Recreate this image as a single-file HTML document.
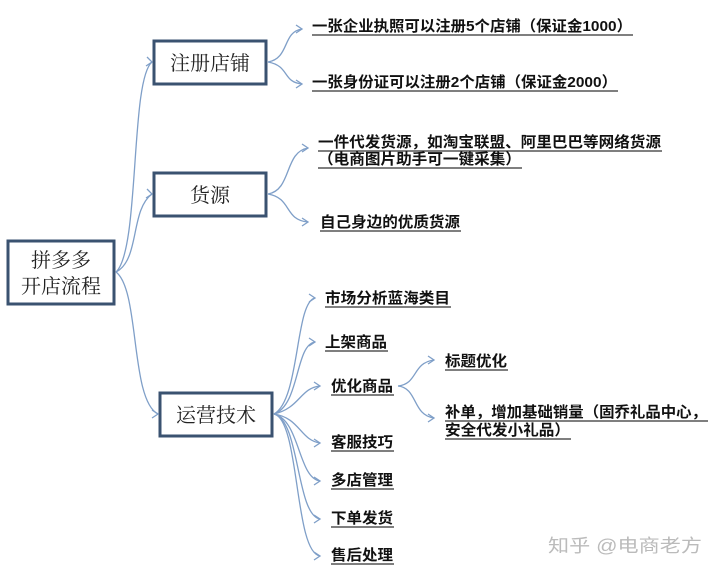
<!DOCTYPE html>
<html><head><meta charset="utf-8"><style>
body{margin:0;background:#fff}
svg{display:block}
.t{font-family:"Liberation Sans","Noto Sans CJK SC",sans-serif;font-size:15px;font-weight:bold;fill:#111}
.b{font-family:"Liberation Serif","Noto Serif CJK SC",serif;font-size:20px;fill:#222}
.u{stroke:#333;stroke-width:1.3}
.c{fill:none;stroke:#7f9fc8;stroke-width:1.3}
</style></head><body>
<svg width="720" height="575" viewBox="0 0 720 575">
<g fill="#fff" stroke="#3a5270" stroke-width="3">
<rect x="8" y="241" width="106" height="63"/>
<rect x="154" y="41" width="112" height="43"/>
<rect x="154" y="173" width="112" height="43"/>
<rect x="160" y="393" width="112" height="43"/>
</g>
<text class="b" x="61" y="267" text-anchor="middle">拼多多</text>
<text class="b" x="61" y="293" text-anchor="middle">开店流程</text>
<text class="b" x="210" y="70" text-anchor="middle">注册店铺</text>
<text class="b" x="210" y="202" text-anchor="middle">货源</text>
<text class="b" x="216" y="422" text-anchor="middle">运营技术</text>
<g class="c">
<path d="M116 272 C140 250,130 80,152 62"/><path d="M147 57 L152 62 L146 66"/>
<path d="M116 272 C140 260,130 210,152 194"/><path d="M147 189 L152 194 L146 198"/>
<path d="M116 272 C140 290,130 400,158 414"/><path d="M152 410 L158 414 L152 418"/>
<path d="M268 62 C290 58,282 32,302 29"/><path d="M296 25 L302 29 L296 33"/>
<path d="M268 62 C290 66,282 82,302 84"/><path d="M296 80 L302 84 L296 88"/>
<path d="M268 194 C292 190,284 152,308 148"/><path d="M302 144 L308 148 L302 152"/>
<path d="M268 194 C292 198,284 220,308 222"/><path d="M302 218 L308 222 L302 226"/>
<path d="M274 414 C300 400,295 302,315 298"/><path d="M309 294 L315 298 L309 302"/>
<path d="M274 414 C300 405,295 345,315 342"/><path d="M309 338 L315 342 L309 346"/>
<path d="M274 414 C300 408,300 388,320 386"/><path d="M314 382 L320 386 L314 390"/>
<path d="M274 414 C300 418,300 440,320 443"/><path d="M314 439 L320 443 L314 447"/>
<path d="M274 414 C300 420,298 478,320 481"/><path d="M314 477 L320 481 L314 485"/>
<path d="M274 414 C300 420,296 515,320 519"/><path d="M314 515 L320 519 L314 523"/>
<path d="M274 414 C300 420,294 552,320 556"/><path d="M314 552 L320 556 L314 560"/>
<path d="M398 386 C418 384,412 363,434 360"/><path d="M428 356 L434 360 L428 364"/>
<path d="M398 386 C418 388,412 415,434 418"/><path d="M428 414 L434 418 L428 422"/>
</g>
<text class="t" x="312" y="31" textLength="320" lengthAdjust="spacingAndGlyphs">一张企业执照可以注册5个店铺（保证金1000）</text>
<line class="u" x1="312" y1="35" x2="633" y2="35"/>
<text class="t" x="312" y="87" textLength="305" lengthAdjust="spacingAndGlyphs">一张身份证可以注册2个店铺（保证金2000）</text>
<line class="u" x1="312" y1="91" x2="618" y2="91"/>
<text class="t" x="318" y="147" textLength="343" lengthAdjust="spacingAndGlyphs">一件代发货源，如淘宝联盟、阿里巴巴等网络货源</text>
<line class="u" x1="318" y1="151" x2="662" y2="151"/>
<text class="t" x="318" y="164" textLength="203" lengthAdjust="spacingAndGlyphs">（电商图片助手可一键采集）</text>
<line class="u" x1="318" y1="168" x2="522" y2="168"/>
<text class="t" x="320" y="227" textLength="140" lengthAdjust="spacingAndGlyphs">自己身边的优质货源</text>
<line class="u" x1="320" y1="231" x2="461" y2="231"/>
<text class="t" x="325" y="303" textLength="125" lengthAdjust="spacingAndGlyphs">市场分析蓝海类目</text>
<line class="u" x1="325" y1="307" x2="451" y2="307"/>
<text class="t" x="325" y="347" textLength="62" lengthAdjust="spacingAndGlyphs">上架商品</text>
<line class="u" x1="325" y1="351" x2="388" y2="351"/>
<text class="t" x="331" y="391" textLength="62" lengthAdjust="spacingAndGlyphs">优化商品</text>
<line class="u" x1="331" y1="395" x2="394" y2="395"/>
<text class="t" x="445" y="366" textLength="62" lengthAdjust="spacingAndGlyphs">标题优化</text>
<line class="u" x1="445" y1="370" x2="508" y2="370"/>
<text class="t" x="445" y="417" textLength="262" lengthAdjust="spacingAndGlyphs">补单，增加基础销量（固乔礼品中心，</text>
<line class="u" x1="445" y1="421" x2="708" y2="421"/>
<text class="t" x="445" y="435" textLength="125" lengthAdjust="spacingAndGlyphs">安全代发小礼品）</text>
<line class="u" x1="445" y1="439" x2="571" y2="439"/>
<text class="t" x="331" y="447" textLength="62" lengthAdjust="spacingAndGlyphs">客服技巧</text>
<line class="u" x1="331" y1="451" x2="394" y2="451"/>
<text class="t" x="331" y="485" textLength="62" lengthAdjust="spacingAndGlyphs">多店管理</text>
<line class="u" x1="331" y1="489" x2="394" y2="489"/>
<text class="t" x="331" y="523" textLength="62" lengthAdjust="spacingAndGlyphs">下单发货</text>
<line class="u" x1="331" y1="527" x2="394" y2="527"/>
<text class="t" x="331" y="560" textLength="62" lengthAdjust="spacingAndGlyphs">售后处理</text>
<line class="u" x1="331" y1="564" x2="394" y2="564"/>
<text x="548" y="552" textLength="154" lengthAdjust="spacingAndGlyphs" style="font-family:'Liberation Sans','Noto Sans CJK SC',sans-serif;font-size:18px;fill:#bbb">知乎 @电商老方</text>
</svg>
</body></html>
